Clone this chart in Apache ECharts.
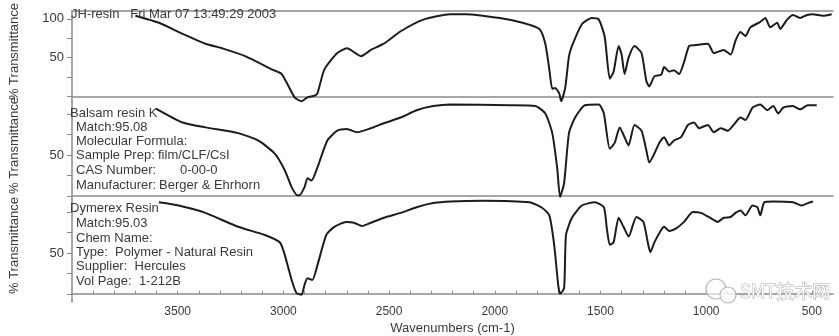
<!DOCTYPE html>
<html>
<head>
<meta charset="utf-8">
<script src="https://cdn.jsdelivr.net/npm/echarts@6/dist/echarts.min.js"></script>
<style>
html, body { margin: 0; padding: 0; background: #fff; }
#main { width: 839px; height: 336px; }
</style>
</head>
<body>
<div id="main"></div>
<script>
// wavenumber ticks on the bottom axis
var waveLabels = [3500, 3000, 2500, 2000, 1500, 1000, 500];

// JH-resin (sample)
var jhWave = [3700, 3589, 3495, 3369, 3289, 3181, 3055, 3008, 2947, 2914, 2886, 2853, 2839, 2806, 2745, 2699,
	2633, 2586, 2525, 2445, 2338, 2211, 2136, 1977, 1869, 1789, 1761, 1742, 1728, 1714, 1695, 1686, 1667,
	1649, 1635, 1588, 1541, 1508, 1480, 1456, 1438, 1414, 1400, 1386, 1367, 1339, 1306, 1283, 1269, 1245,
	1213, 1199, 1175, 1152, 1128, 1105, 1081, 1058, 992, 964, 917, 884, 861, 838, 814, 791, 744, 720, 697,
	664, 650, 617, 589, 556, 523, 495, 448, 406];
var jhT = [104, 95, 83, 68, 62, 52, 35, 29, -1, -6, -1, 1, 4, 35, 56, 62,
	52, 60, 68, 84, 99, 106, 106, 101, 95, 87, 68, 35, 10, 11, 4, -6, 11,
	52, 65, 93, 101, 99, 77, 23, 32, 65, 54, 29, 50, 65, 56, 20, 13, 26,
	28, 38, 32, 34, 29, 44, 65, 66, 68, 56, 60, 54, 72, 83, 78, 89, 96, 101, 89,
	95, 87, 99, 105, 101, 105, 106, 104, 106];

// Balsam resin K (library match)
var balsamWave = [3603, 3477, 3369, 3214, 3120, 3041, 2994, 2961, 2933, 2924, 2900, 2886, 2867, 2839, 2792, 2745,
	2699, 2652, 2586, 2525, 2445, 2370, 2291, 2211, 1930, 1808, 1761, 1728, 1705, 1691, 1672, 1649, 1620,
	1574, 1508, 1484, 1456, 1433, 1409, 1386, 1367, 1339, 1306, 1283, 1269, 1245, 1222, 1199, 1175, 1152,
	1119, 1086, 1058, 1034, 992, 964, 931, 898, 870, 838, 814, 781, 744, 711, 683, 659, 636, 589, 556, 519, 477];
var balsamT = [107, 90, 84, 77, 68, 52, 32, 11, 1, 1, 11, 22, 19, 35, 68, 80,
	82, 78, 83, 89, 96, 105, 110, 112, 111, 110, 101, 77, 35, -1, 16, 77, 96,
	111, 112, 101, 58, 65, 84, 72, 62, 87, 80, 56, 41, 52, 65, 72, 62, 68,
	72, 87, 90, 83, 87, 78, 83, 80, 87, 96, 93, 108, 112, 105, 110, 101, 108, 110, 106, 111, 111];

// Dymerex Resin (library match)
var dymerexWave = [3589, 3495, 3369, 3214, 3088, 3017, 2994, 2961, 2938, 2914, 2900, 2886, 2863, 2839, 2797, 2759,
	2703, 2666, 2628, 2586, 2525, 2445, 2370, 2291, 2211, 2056, 1836, 1775, 1742, 1719, 1700, 1691, 1672,
	1663, 1635, 1588, 1527, 1484, 1470, 1456, 1438, 1414, 1391, 1367, 1330, 1297, 1274, 1264, 1245, 1213,
	1199, 1175, 1142, 1105, 1063, 1025, 988, 945, 917, 884, 861, 838, 814, 781, 758, 744, 725, 683, 589,
	547, 519, 495];
var dymerexT = [112, 108, 99, 82, 72, 63, 48, 17, 1, -1, 11, 19, 17, 35, 72, 82,
	88, 87, 83, 87, 93, 99, 106, 111, 113, 114, 112, 105, 96, 60, 11, 0, 7,
	72, 93, 108, 112, 106, 80, 60, 63, 93, 82, 70, 94, 88, 60, 51, 63, 78,
	82, 77, 80, 88, 100, 99, 94, 88, 93, 94, 99, 102, 96, 108, 106, 96, 112, 113, 112,
	108, 111, 113];

function zip(xs, ys) {
	var out = [];
	for (var i = 0; i < xs.length; i++) out.push([xs[i], ys[i]]);
	return out;
}

var ink = '#1c1c1c';
var frame = '#8a8a8a';
var textCol = '#3a3a3a';
var font = 'Liberation Sans, Arial, sans-serif';

var dom = document.getElementById('main');
var myChart = echarts.init(dom, null, { renderer: 'canvas' });

function xAx(idx, showLabels) {
	return {
		type: 'value',
		gridIndex: idx,
		min: 400,
		max: 4000,
		inverse: true,
		splitLine: { show: false },
		axisLine: { show: true, lineStyle: { color: frame, width: 1.5 } },
		axisTick: {
			show: showLabels,
			inside: true,
			length: 3,
			lineStyle: { color: frame },
			customValues: [3900, 3800, 3700, 3600, 3500, 3400, 3300, 3200, 3100, 3000, 2900, 2800, 2700, 2600,
				2500, 2400, 2300, 2200, 2100, 2000, 1900, 1800, 1700, 1600, 1500, 1400, 1300, 1200, 1100,
				1000, 900, 800, 700, 600, 500]
		},
		axisLabel: {
			show: showLabels,
			customValues: waveLabels,
			formatter: function (v) { return String(v); },
			color: textCol,
			fontFamily: font,
			fontSize: 12,
			margin: 4
		},
		name: showLabels ? 'Wavenumbers (cm-1)' : '',
		nameLocation: 'middle',
		nameGap: 20,
		nameTextStyle: { color: textCol, fontFamily: font, fontSize: 13 }
	};
}

function yAx(idx, min, max, labels) {
	return {
		type: 'value',
		gridIndex: idx,
		min: min,
		max: max,
		splitLine: { show: false },
		axisLine: { show: true, lineStyle: { color: frame, width: 1.5 } },
		axisTick: {
			show: true,
			length: 5,
			lineStyle: { color: frame },
			customValues: [0, 25, 50, 75, 100]
		},
		axisLabel: {
			customValues: labels,
			color: textCol,
			fontFamily: font,
			fontSize: 13,
			margin: 8
		},
		name: '% Transmittance',
		nameLocation: 'middle',
		nameGap: 51,
		nameTextStyle: { color: textCol, fontFamily: font, fontSize: 13, padding: [0, 0, 0, 10] }
	};
}

function txt(x, y, s) {
	return {
		type: 'text',
		x: x,
		y: y,
		z: 10,
		style: { text: s, fill: textCol, font: '13px ' + font, verticalAlign: 'middle' }
	};
}

option = {
	backgroundColor: '#ffffff',
	animation: false,
	grid: [
		{ left: 68, right: 6, top: 6, height: 96, show: false },
		{ left: 68, right: 6, top: 102, height: 97, show: false },
		{ left: 68, right: 6, top: 199, height: 103, show: false }
	],
	xAxis: [
		xAx(0, false),
		xAx(1, false),
		xAx(2, true),
		{
			type: 'value', gridIndex: 0, position: 'top', min: 400, max: 4000, inverse: true,
			axisLine: { show: true, lineStyle: { color: frame, width: 1.5 } },
			axisTick: { show: false }, axisLabel: { show: false }, splitLine: { show: false }
		}
	],
	yAxis: [
		yAx(0, -7, 110, [100, 50]),
		yAx(1, -3.5, 115, [50]),
		yAx(2, -10, 116, [50])
	],
	series: [
		{
			name: 'JH-resin', type: 'line', xAxisIndex: 0, yAxisIndex: 0,
			data: zip(jhWave, jhT), showSymbol: false, smooth: 0.2,
			lineStyle: { color: ink, width: 2 }
		},
		{
			name: 'Balsam resin K', type: 'line', xAxisIndex: 1, yAxisIndex: 1,
			data: zip(balsamWave, balsamT), showSymbol: false, smooth: 0.2,
			lineStyle: { color: ink, width: 2 }
		},
		{
			name: 'Dymerex Resin', type: 'line', xAxisIndex: 2, yAxisIndex: 2,
			data: zip(dymerexWave, dymerexT), showSymbol: false, smooth: 0.2,
			lineStyle: { color: ink, width: 2 }
		}
	],
	graphic: [
		txt(71, 14, 'JH-resin   Fri Mar 07 13:49:29 2003'),

		txt(70, 113, 'Balsam resin K'),
		txt(76, 127, 'Match:95.08'),
		txt(76, 141, 'Molecular Formula:'),
		txt(76, 155, 'Sample Prep:'),
		txt(158, 155, 'film/CLF/CsI'),
		txt(76, 170, 'CAS Number:'),
		txt(180, 170, '0-00-0'),
		txt(76, 185, 'Manufacturer:'),
		txt(159, 185, 'Berger & Ehrhorn'),

		txt(70, 208, 'Dymerex Resin'),
		txt(76, 223, 'Match:95.03'),
		txt(76, 238, 'Chem Name:'),
		txt(76, 252, 'Type:  Polymer - Natural Resin'),
		txt(76, 266, 'Supplier:  Hercules'),
		txt(76, 281, 'Vol Page:  1-212B'),

		// watermark
		{
			type: 'circle', z: 10, shape: { cx: 716, cy: 289, r: 10 },
			style: { fill: 'rgba(255,255,255,0.6)', stroke: '#b5b5b5', lineWidth: 1.2 }
		},
		{
			type: 'circle', z: 11, shape: { cx: 728, cy: 295, r: 8 },
			style: { fill: 'rgba(255,255,255,0.8)', stroke: '#b5b5b5', lineWidth: 1.2 }
		},
		{
			type: 'text', z: 10, x: 740, y: 291,
			style: {
				text: 'SMT技术网', fill: '#ffffff', stroke: '#a8a8a8', lineWidth: 1,
				font: '18px "Noto Sans CJK SC", sans-serif', verticalAlign: 'middle'
			}
		}
	]
};
if (option && typeof option === 'object') {
	myChart.setOption(option, true);
}
</script>
</body>
</html>
